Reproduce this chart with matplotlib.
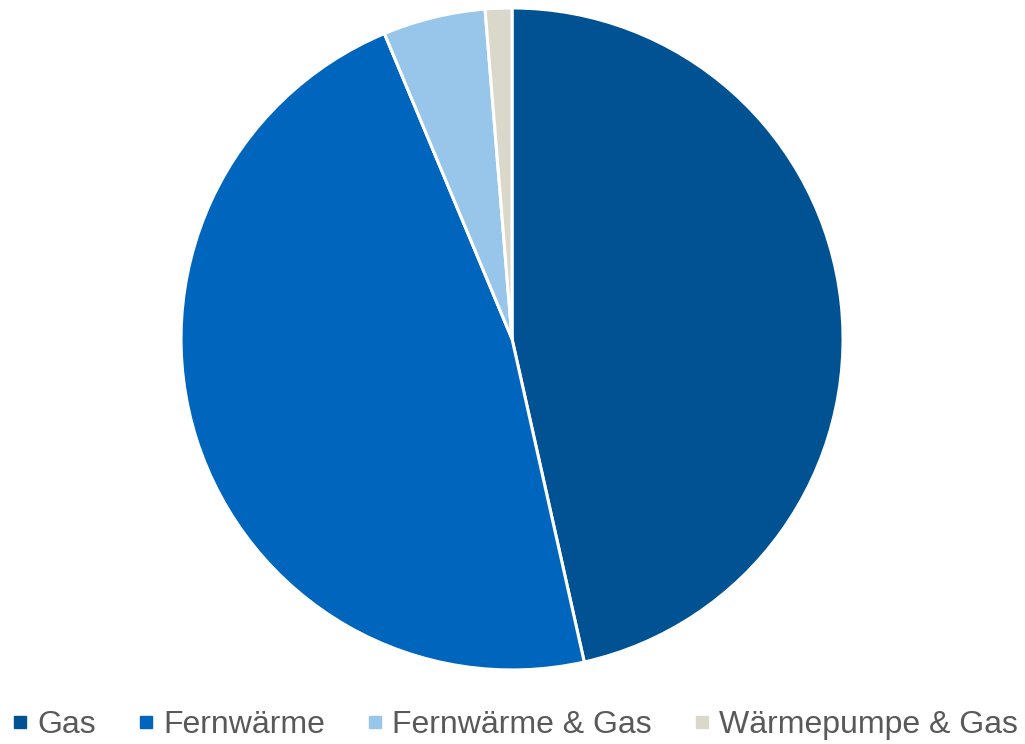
import matplotlib.pyplot as plt
from matplotlib.lines import Line2D

plt.rcParams['font.family'] = ['Liberation Sans', 'DejaVu Sans']

labels = ['Gas', 'Fernwärme', 'Fernwärme & Gas', 'Wärmepumpe & Gas']
shares = [46.5, 47.2, 5.0, 1.3]
colors = ['#005293', '#0065bd', '#98c6ea', '#dad7cb']

fig = plt.figure(figsize=(10.25, 7.44), dpi=100)
ax = fig.add_axes([0.1766, 0.0995, 0.6459, 0.8898])
ax.pie(shares, colors=colors, startangle=90, counterclock=False,
       wedgeprops=dict(edgecolor='white', linewidth=2.2))
ax.set_xlim(-1, 1)
ax.set_ylim(-1, 1)
ax.set_aspect('equal')

handles = [Line2D([], [], marker='s', linestyle='none', markersize=8,
                  markerfacecolor=c, markeredgecolor=c) for c in colors]
fig.legend(handles, labels, loc='center left', bbox_to_anchor=(0.0102, 0.0255),
           ncol=4, frameon=False, fontsize=23, labelcolor='#595959',
           handlelength=0.6, handletextpad=0.23, columnspacing=1.28,
           borderpad=0, borderaxespad=0)

fig.savefig('out.png', dpi=100)
